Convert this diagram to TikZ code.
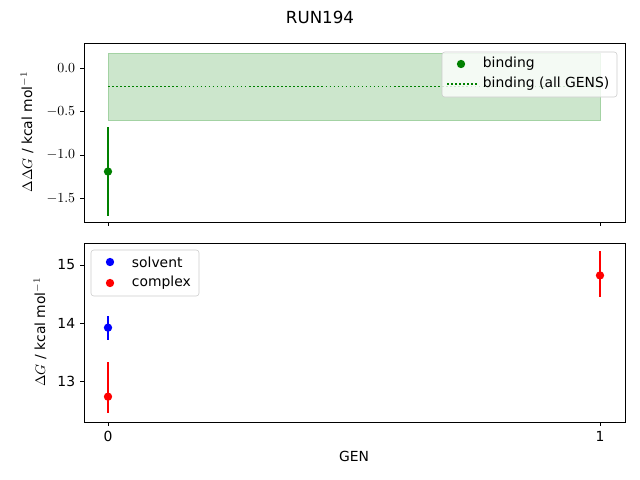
\documentclass[tikz,border=0pt]{standalone}
\usepackage{amsmath}
\usepackage{fontspec}
\setmainfont{DejaVu Sans}
\usepackage{tikz}
\usetikzlibrary{arrows, plotmarks, positioning, shapes}
\definecolor{mplgreen}{RGB}{0,128,0}
\definecolor{mplfill}{RGB}{204,230,204}

\begin{document}
\begin{tikzpicture}[x=0.72pt, y=-0.72pt, font=\fontsize{10}{12}\selectfont,
	dot/.style={circle, fill=#1, inner sep=0pt, minimum size=6pt},
	allgens/.style={mplgreen, line width=1.1pt, dash pattern=on 1.1pt off 1.8pt},
	legendbox/.style={draw=black!20, fill=white, fill opacity=0.8, text opacity=1, rounded corners=2pt}]

\useasboundingbox (0,0) rectangle (640,480);

% x pixel of a GEN
\newcommand{\gx}[1]{108 + #1 * 492}
% top panel: DDG -> pixel
\newcommand{\ty}[1]{68 - #1 * 87}
% bottom panel: DG -> pixel
\newcommand{\by}[1]{323 - (#1 - 14) * 58}

\node[font=\fontsize{12}{14}\selectfont] (title) at (320,17) {RUN194};

% top panel
\fill[mplfill] (\gx{0}, {\ty{0.17}}) rectangle (\gx{1}, {\ty{-0.6}});
\draw[mplfill!80!mplgreen, line width=0.4pt] (\gx{0}, {\ty{0.17}}) rectangle (\gx{1}, {\ty{-0.6}});
\draw[allgens] (\gx{0}, {\ty{-0.21}}) -- (\gx{1}, {\ty{-0.21}}); % all gens
\draw (84,43) rectangle (625,222);
\foreach \y in {0.0, -0.5, -1.0, -1.5} {
	\draw (84, {\ty{\y}}) -- (80, {\ty{\y}}) node[anchor=east] {\pgfmathprintnumber[fixed, fixed zerofill, precision=1]{\y}};
}
\foreach \x in {0, 1} {
	\draw (\gx{\x}, 222) -- (\gx{\x}, 226);
}
\node[rotate=90] (topylabel) at (27,132) {$\Delta\Delta G$ / kcal mol$^{-1}$};

\coordinate (bhi) at (\gx{0}, {\ty{-0.68}});
\coordinate (blo) at (\gx{0}, {\ty{-1.7}});
\draw[mplgreen, thick] (bhi) -- (blo);
\node[dot=mplgreen] (binding0) at (\gx{0}, {\ty{-1.19}}) {};

\node[legendbox, minimum width=175*0.72pt, minimum height=45*0.72pt] (toplegend) at (529.5,74.5) {};
\node[dot=mplgreen] (legbind) at (461,64) {};
\node[anchor=west] at (478,64) {binding};
\coordinate (lega) at (447,84);
\coordinate (legb) at (477,84);
\draw[allgens] (lega) -- (legb);
\node[anchor=west] at (478,84) {binding (all GENS)};

% bottom panel
\draw (84,243) rectangle (625,422);
\foreach \y in {13, 14, 15} {
	\draw (84, {\by{\y}}) -- (80, {\by{\y}}) node[anchor=east] {\y};
}
\foreach \x in {0, 1} {
	\draw (\gx{\x}, 422) -- (\gx{\x}, 426) node[anchor=north] {\x};
}
\node[rotate=90] (botylabel) at (40,332) {$\Delta G$ / kcal mol$^{-1}$};
\node (xlabel) at (354,456) {GEN};

\coordinate (shi) at (\gx{0}, {\by{14.12}});
\coordinate (slo) at (\gx{0}, {\by{13.71}});
\draw[blue, thick] (shi) -- (slo);
\node[dot=blue] (solvent0) at (\gx{0}, {\by{13.92}}) {};

\coordinate (c0hi) at (\gx{0}, {\by{13.32}});
\coordinate (c0lo) at (\gx{0}, {\by{12.45}});
\draw[red, thick] (c0hi) -- (c0lo);
\node[dot=red] (complex0) at (\gx{0}, {\by{12.73}}) {};

\coordinate (c1hi) at (\gx{1}, {\by{15.24}});
\coordinate (c1lo) at (\gx{1}, {\by{14.45}});
\draw[red, thick] (c1hi) -- (c1lo);
\node[dot=red] (complex1) at (\gx{1}, {\by{14.82}}) {};

\node[legendbox, minimum width=108*0.72pt, minimum height=46*0.72pt] (botlegend) at (145,273) {};
\node[dot=blue] (legsolv) at (110,262) {};
\node[anchor=west] at (127,262) {solvent};
\node[dot=red] (legcomp) at (110,283) {};
\node[anchor=west] at (127,283) {complex};

\end{tikzpicture}
\end{document}
